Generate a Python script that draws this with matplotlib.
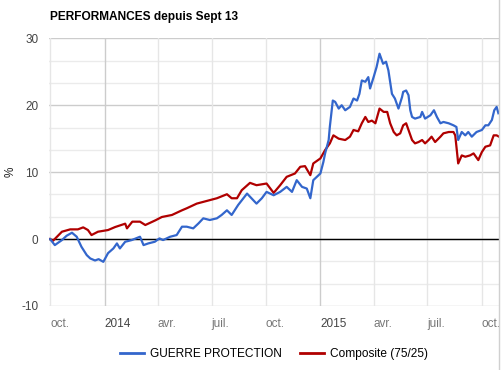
import numpy as np
import pandas as pd
import matplotlib
matplotlib.use("Agg")
import matplotlib.pyplot as plt
import matplotlib.dates as mdates
from matplotlib.lines import Line2D

plt.rcParams['font.family'] = ['Liberation Sans', 'DejaVu Sans']

START = pd.Timestamp('2013-09-30')
END = pd.Timestamp('2015-10-30')

# days since START, performance in %
guerre_days = [1, 9, 21, 29, 38, 46, 54, 63, 69, 77, 83, 91, 99, 108, 114, 119,
               128, 139, 153, 159, 167, 178, 186, 192, 204, 215, 224, 232, 243,
               252, 260, 271, 283, 291, 300, 308, 319, 334, 342, 350, 359, 367,
               379, 390, 401, 410, 418, 427, 435, 441, 446, 455, 458, 463, 466,
               472, 474, 479, 483, 489, 494, 500, 508, 514, 520, 524, 528, 534,
               539, 542, 548, 553, 558, 564, 569, 573, 579, 584, 590, 596, 598,
               603, 607, 610, 613, 618, 627, 630, 635, 644, 650, 655, 661, 666,
               675, 683, 688, 691, 697, 703, 708, 714, 722, 731, 737, 742, 748,
               752, 756, 759]
guerre_vals = [0.0, -0.9, -0.15, 0.5, 0.95, 0.35, -1.15, -2.4, -2.9, -3.2, -3.0,
               -3.4, -2.1, -1.4, -0.65, -1.4, -0.4, -0.15, 0.35, -0.9, -0.65,
               -0.4, 0.1, -0.15, 0.35, 0.6, 1.85, 1.85, 1.6, 2.35, 3.1, 2.85,
               3.1, 3.6, 4.3, 3.6, 5.1, 6.8, 6.05, 5.3, 6.1, 7.05, 6.55, 7.05,
               7.8, 7.05, 8.8, 7.8, 7.55, 6.1, 8.8, 9.55, 9.8, 11.5, 12.8, 14.8,
               16.8, 20.7, 20.5, 19.5, 20.0, 19.25, 19.75, 21.0, 20.7, 21.7,
               23.7, 23.5, 24.2, 22.5, 24.2, 25.7, 27.7, 26.2, 26.5, 25.2, 21.7,
               21.0, 19.5, 21.2, 22.0, 22.2, 21.5, 19.25, 18.25, 18.0, 18.25,
               19.0, 18.0, 18.5, 19.25, 18.25, 17.3, 17.5, 17.3, 17.0, 16.75,
               14.8, 16.0, 15.5, 16.0, 15.3, 16.0, 16.3, 17.0, 17.0, 17.8,
               19.25, 19.75, 18.8]

compo_days = [1, 6, 21, 35, 48, 57, 65, 71, 82, 99, 111, 128, 131, 140, 153,
              162, 179, 190, 207, 224, 232, 249, 266, 283, 300, 308, 317, 325,
              339, 350, 367, 379, 390, 401, 415, 424, 432, 441, 446, 458, 466,
              474, 480, 489, 500, 508, 514, 522, 528, 534, 539, 545, 551, 558,
              565, 571, 576, 582, 587, 593, 598, 603, 607, 613, 618, 624, 630,
              635, 641, 646, 652, 661, 666, 675, 683, 686, 689, 691, 697, 703,
              711, 717, 725, 731, 737, 745, 751, 756, 760]
compo_vals = [0.0, -0.25, 1.1, 1.45, 1.45, 1.75, 1.35, 0.6, 1.1, 1.35, 1.8, 2.3,
              1.6, 2.6, 2.6, 2.1, 2.8, 3.3, 3.6, 4.3, 4.6, 5.3, 5.7, 6.1, 6.7,
              6.1, 6.1, 7.3, 8.4, 8.05, 8.3, 6.9, 8.05, 9.3, 9.8, 10.8, 10.9,
              9.55, 11.3, 12.05, 13.3, 14.3, 15.5, 15.0, 14.8, 15.3, 16.3, 16.1,
              17.3, 18.25, 17.5, 17.7, 17.3, 19.5, 19.0, 19.0, 17.3, 16.0, 15.5,
              15.8, 17.0, 17.3, 16.3, 14.8, 14.3, 14.5, 14.8, 14.3, 14.8, 15.3,
              14.5, 15.3, 15.8, 16.0, 16.0, 15.5, 13.0, 11.3, 12.5, 12.3, 12.5,
              12.8, 11.8, 13.0, 13.8, 14.0, 15.5, 15.5, 15.3]

labels = ['GUERRE PROTECTION', 'Composite (75/25)']
colors = ['#3366cc', '#b00000']
month_names = {4: 'avr.', 7: 'juil.', 10: 'oct.'}

guerre_dates = START + pd.to_timedelta(guerre_days, unit='D')
compo_dates = START + pd.to_timedelta(compo_days, unit='D')

fig = plt.figure(figsize=(5.02, 3.70), dpi=100)
ax = fig.add_axes([49.5 / 502, 1 - 306 / 370, (499 - 49.5) / 502, (306 - 38.3) / 370])

# grid: minor every 10/3, major every 10
for y in np.arange(-10, 30.01, 10 / 3):
    major = abs(y / 10 - round(y / 10)) < 1e-6
    ax.axhline(y, color='#cccccc' if major else '#ebebeb', lw=1, zorder=0)
month_ticks = pd.DatetimeIndex([pd.Timestamp('2013-10-01')]).append(
    pd.date_range('2014-01-01', '2015-10-01', freq='QS-JAN'))
for d in month_ticks:
    ax.axvline(d, color='#cccccc' if d.month == 1 else '#e6e6e6', lw=1, zorder=0)
ax.axhline(0, color='black', lw=1, zorder=1)

ax.plot(guerre_dates, guerre_vals, color=colors[0], lw=1.6, zorder=3)
ax.plot(compo_dates, compo_vals, color=colors[1], lw=1.6, zorder=2)

ax.set_xlim(START, END)
ax.set_ylim(-10, 30)
for s in ax.spines.values():
    s.set_visible(False)
ax.set_xticks([])
ax.set_yticks([-10, 0, 10, 20, 30])
ax.set_yticklabels(['-10', '0', '10', '20', '30'], fontsize=8.5, color='#444444')
ax.tick_params(axis='y', length=0, pad=8)

# x labels sit left-aligned on their gridline
for d in month_ticks:
    txt = str(d.year) if d.month == 1 else month_names[d.month]
    col = '#444444' if d.month == 1 else '#777777'
    ax.text(mdates.date2num(d), -11.8, txt, ha='left', va='top',
            fontsize=8.5, color=col)

fig.text(11 / 502, 1 - 172 / 370, '%', rotation=90, ha='center', va='center',
         fontsize=8.5, color='#222222')
fig.text(50 / 502, 1 - 17 / 370, 'PERFORMANCES depuis Sept 13', ha='left', va='center',
         fontsize=8.6, fontweight='bold', color='black')

handles = [Line2D([], [], color=c, lw=2) for c in colors]
fig.legend(handles, labels, loc='center', bbox_to_anchor=(274 / 502, 1 - 354 / 370),
           ncol=2, frameon=False, fontsize=8.6, handlelength=2.0, handletextpad=0.5,
           columnspacing=1.5)

fig.add_artist(Line2D([499.5 / 502, 499.5 / 502], [0, 1], color='#d0d0d0', lw=1))

fig.savefig('out.png', dpi=100)
